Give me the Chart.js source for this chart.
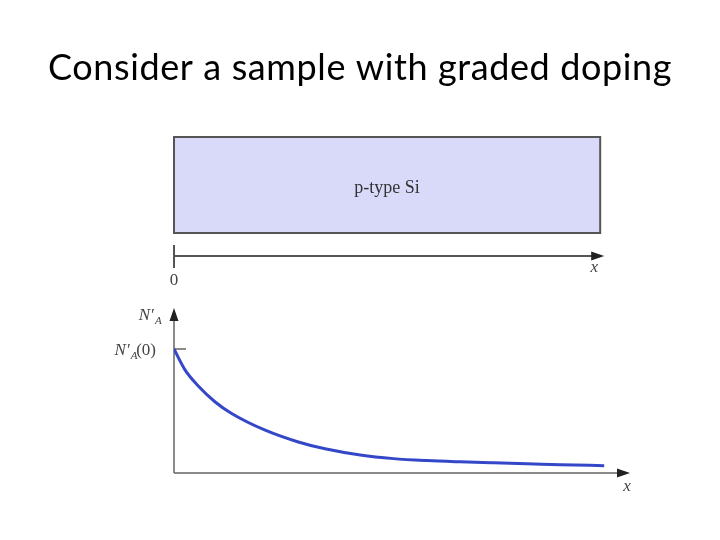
<!DOCTYPE html>
<html>
<head>
<meta charset="utf-8">
<script src="https://cdn.jsdelivr.net/npm/chart.js@4.4.1/dist/chart.umd.min.js"></script>
<style>
  html, body { margin: 0; padding: 0; background: #fff; }
  #wrap { width: 720px; height: 540px; }
</style>
</head>
<body>
<div id="wrap"><canvas id="c" width="720" height="540"></canvas></div>
<script>
// doping profile N'A(x), normalised to N'A(0) = 1, x normalised to sample length
const xPos = [0, 0.026, 0.057, 0.095, 0.134, 0.212, 0.289, 0.351, 0.433, 0.51, 0.588, 0.665, 0.743, 0.82, 0.898, 1.0];
const naValues = [1.0, 0.83, 0.70, 0.575, 0.48, 0.345, 0.25, 0.195, 0.145, 0.116, 0.100, 0.090, 0.082, 0.075, 0.067, 0.059];
const titleText = 'Consider a sample with graded doping';
const sampleLabel = 'p-type Si';

const points = xPos.map((x, i) => ({ x: x, y: naValues[i] }));

function arrow(ctx, x, y, dir) {
    ctx.beginPath();
    if (dir === 'right') {
        ctx.moveTo(x, y);
        ctx.lineTo(x - 13, y - 4.5);
        ctx.lineTo(x - 13, y + 4.5);
    } else {
        ctx.moveTo(x, y);
        ctx.lineTo(x - 4.5, y + 13);
        ctx.lineTo(x + 4.5, y + 13);
    }
    ctx.closePath();
    ctx.fill();
}

// N'A label: italic N, prime, subscript A
function naLabel(ctx, xRight, y, suffix) {
    ctx.save();
    ctx.fillStyle = '#444';
    ctx.textBaseline = 'alphabetic';
    const main = 'italic 17px "Liberation Serif"';
    const sub = 'italic 11px "Liberation Serif"';
    const up = '17px "Liberation Serif"';
    ctx.font = main;
    const wN = ctx.measureText('N\u2032').width;
    ctx.font = sub;
    const wA = ctx.measureText('A').width;
    ctx.font = up;
    const wS = suffix ? ctx.measureText(suffix).width : 0;
    let x = xRight - (wN + wA + wS);
    ctx.font = main;
    ctx.fillText('N\u2032', x, y);
    x += wN - 3;
    ctx.font = sub;
    ctx.fillText('A', x, y + 4);
    x += wA + 3;
    if (suffix) {
        ctx.font = up;
        ctx.fillText(suffix, x, y);
    }
    ctx.restore();
}

const diagram = {
    id: 'diagram',
    beforeDatasetsDraw(chart) {
        const ctx = chart.ctx;
        const xs = chart.scales.x;
        const ys = chart.scales.y;
        const area = chart.chartArea;
        const x0 = xs.getPixelForValue(0);
        const x1 = xs.getPixelForValue(1);
        const yBase = ys.getPixelForValue(0);
        const yOne = ys.getPixelForValue(1);

        ctx.save();
        // title
        ctx.fillStyle = '#000';
        ctx.font = '36px Lato';
        ctx.letterSpacing = '0.6px';
        ctx.textAlign = 'center';
        ctx.textBaseline = 'alphabetic';
        ctx.fillText(titleText, 360, 80);
        ctx.letterSpacing = '0px';

        // sample bar
        ctx.fillStyle = '#d9d9fa';
        ctx.fillRect(x0, 137, x1 - 4 - x0, 96);
        ctx.strokeStyle = '#555';
        ctx.lineWidth = 2;
        ctx.strokeRect(x0, 137, x1 - 4 - x0, 96);
        ctx.fillStyle = '#333';
        ctx.font = '18px "Liberation Serif"';
        ctx.textBaseline = 'middle';
        ctx.fillText(sampleLabel, (x0 + x1 - 4) / 2, 188);

        // upper position axis
        ctx.strokeStyle = '#555';
        ctx.fillStyle = '#222';
        ctx.lineWidth = 2;
        ctx.beginPath();
        ctx.moveTo(x0, 256);
        ctx.lineTo(x1 - 4, 256);
        ctx.moveTo(x0, 245);
        ctx.lineTo(x0, 268);
        ctx.stroke();
        arrow(ctx, x1 + 0, 256, 'right');
        ctx.fillStyle = '#444';
        ctx.font = '17px "Liberation Serif"';
        ctx.fillText('0', x0, 281);
        ctx.font = 'italic 17px "Liberation Serif"';
        ctx.fillText('x', x1 - 10, 268);

        // lower plot axes
        ctx.strokeStyle = '#666';
        ctx.lineWidth = 1.5;
        ctx.beginPath();
        ctx.moveTo(area.left, yBase);
        ctx.lineTo(area.right - 8, yBase);
        ctx.moveTo(area.left, yBase);
        ctx.lineTo(area.left, area.top + 8);
        ctx.moveTo(area.left, yOne);
        ctx.lineTo(area.left + 12, yOne);
        ctx.stroke();
        ctx.fillStyle = '#222';
        arrow(ctx, area.right, yBase, 'right');
        arrow(ctx, area.left, area.top, 'up');
        ctx.fillStyle = '#444';
        ctx.font = 'italic 17px "Liberation Serif"';
        ctx.fillText('x', area.right - 3, yBase + 14);

        naLabel(ctx, area.left - 6, area.top + 12, '');
        naLabel(ctx, area.left - 6, yOne + 6, ' (0)');
        ctx.restore();
    }
};

new Chart(document.getElementById('c'), {
    type: 'scatter',
    data: {
        datasets: [{
            data: points,
            showLine: true,
            borderColor: '#3347c8',
            borderWidth: 3,
            pointRadius: 0,
            cubicInterpolationMode: 'monotone',
            fill: false
        }]
    },
    options: {
        responsive: false,
        animation: false,
        layout: { padding: { left: 174, right: 90, top: 308, bottom: 67 } },
        plugins: { legend: { display: false }, tooltip: { enabled: false } },
        scales: {
            x: { type: 'linear', min: 0, max: 1.06, display: false },
            y: { type: 'linear', min: 0, max: 1.331, display: false }
        }
    },
    plugins: [diagram]
});
</script>
</body>
</html>
